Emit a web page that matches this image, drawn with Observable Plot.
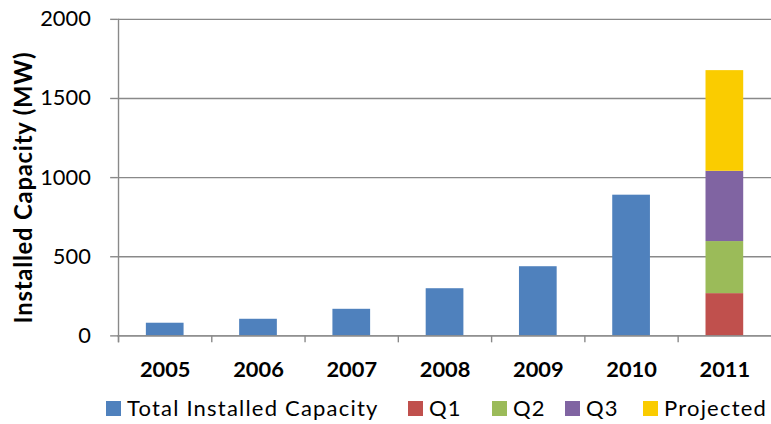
<!DOCTYPE html>
<html>
<head>
<meta charset="utf-8">
<script src="https://cdn.jsdelivr.net/npm/d3@7"></script>
<script src="https://cdn.jsdelivr.net/npm/@observablehq/plot@0.6"></script>
<style>
  html, body { margin: 0; padding: 0; background: #fff; overflow: hidden; width: 771px; height: 424px; }
  #chart { position: relative; width: 771px; height: 424px; font-family: Lato, "Open Sans", sans-serif; }
  #legend { position: absolute; left: 0; top: 394px; width: 771px; height: 28px; font-size: 22px; letter-spacing: 1.2px; color: #000; white-space: nowrap; line-height: 28px; }
  #legend .item { position: absolute; top: 0; display: flex; align-items: center; }
  #legend .sw { width: 15px; height: 15px; margin-right: 6px; }
</style>
</head>
<body>
<div id="chart"></div>
<script>
const years = ["2005", "2006", "2007", "2008", "2009", "2010", "2011"];
const totalYears = ["2005", "2006", "2007", "2008", "2009", "2010"];
const totalValues = [80, 105, 168, 298, 437, 889];
const quarterSeries = ["Q1", "Q2", "Q3", "Projected"];
const quarterValues2011 = [267, 329, 444, 636];
const seriesNames = ["Total Installed Capacity", "Q1", "Q2", "Q3", "Projected"];
const seriesColors = ["#4F81BD", "#C0504D", "#9BBB59", "#8064A2", "#FACC00"];
const yTicks = [0, 500, 1000, 1500, 2000];

const rows = [
  ...totalYears.map((y, i) => ({year: y, series: "Total Installed Capacity", value: totalValues[i]})),
  ...quarterSeries.map((s, i) => ({year: "2011", series: s, value: quarterValues2011[i]}))
];

const W = 777, ML = 118, MR = 0;
const step = (W - ML - MR) / years.length;
const gray = "#898989";
const font = "Lato, 'Open Sans', sans-serif";

const plot = Plot.plot({
  width: W,
  height: 392,
  marginLeft: ML,
  marginRight: MR,
  marginTop: 19,
  marginBottom: 54,
  style: {fontFamily: font, background: "transparent", overflow: "visible"},
  x: {domain: years, paddingInner: 0.6, paddingOuter: 0.3, label: null},
  y: {domain: [0, 2000], label: null},
  color: {domain: seriesNames, range: seriesColors},
  marks: [
    Plot.gridY(yTicks, {stroke: gray, strokeOpacity: 1, strokeWidth: 1.4}),
    Plot.barY(rows, Plot.stackY({x: "year", y: "value", fill: "series", order: seriesNames})),
    Plot.ruleY([0], {stroke: gray, strokeWidth: 1.4}),
    Plot.axisY(yTicks, {tickSize: 7, tickPadding: 20, stroke: gray, strokeWidth: 1.4, fontSize: 22, fill: "#000", label: null, tickFormat: d => String(d)}),
    Plot.axisX(years, {tickSize: 7, dx: -step / 2, text: null, stroke: gray, strokeWidth: 1.4}),
    Plot.axisX(years, {tickSize: 0, tickPadding: 26, fontSize: 22, fontWeight: "bold", fill: "#000", label: null}),
    Plot.ruleX(years.slice(0, 1), {x: d => d, dx: -step / 2, y1: -44, y2: 2000, stroke: gray, strokeWidth: 1.4}),
    Plot.text(["Installed Capacity (MW)"], {frameAnchor: "left", textAnchor: "middle", rotate: -90, dx: -94, dy: 10, fontSize: 24, fontWeight: "bold", fill: "#000", text: d => d})
  ]
});

plot.querySelectorAll("text").forEach(t => {
  if (t.textContent === "Installed Capacity (MW)") t.style.letterSpacing = "0.8px";
});

const chart = document.getElementById("chart");
chart.appendChild(plot);

const legendLefts = [106, 408, 492, 565, 643];
const legend = document.createElement("div");
legend.id = "legend";
seriesNames.forEach((name, i) => {
  const item = document.createElement("div");
  item.className = "item";
  item.style.left = legendLefts[i] + "px";
  const sw = document.createElement("div");
  sw.className = "sw";
  sw.style.background = seriesColors[i];
  const lab = document.createElement("span");
  lab.textContent = name;
  item.appendChild(sw);
  item.appendChild(lab);
  legend.appendChild(item);
});
chart.appendChild(legend);
</script>
</body>
</html>
